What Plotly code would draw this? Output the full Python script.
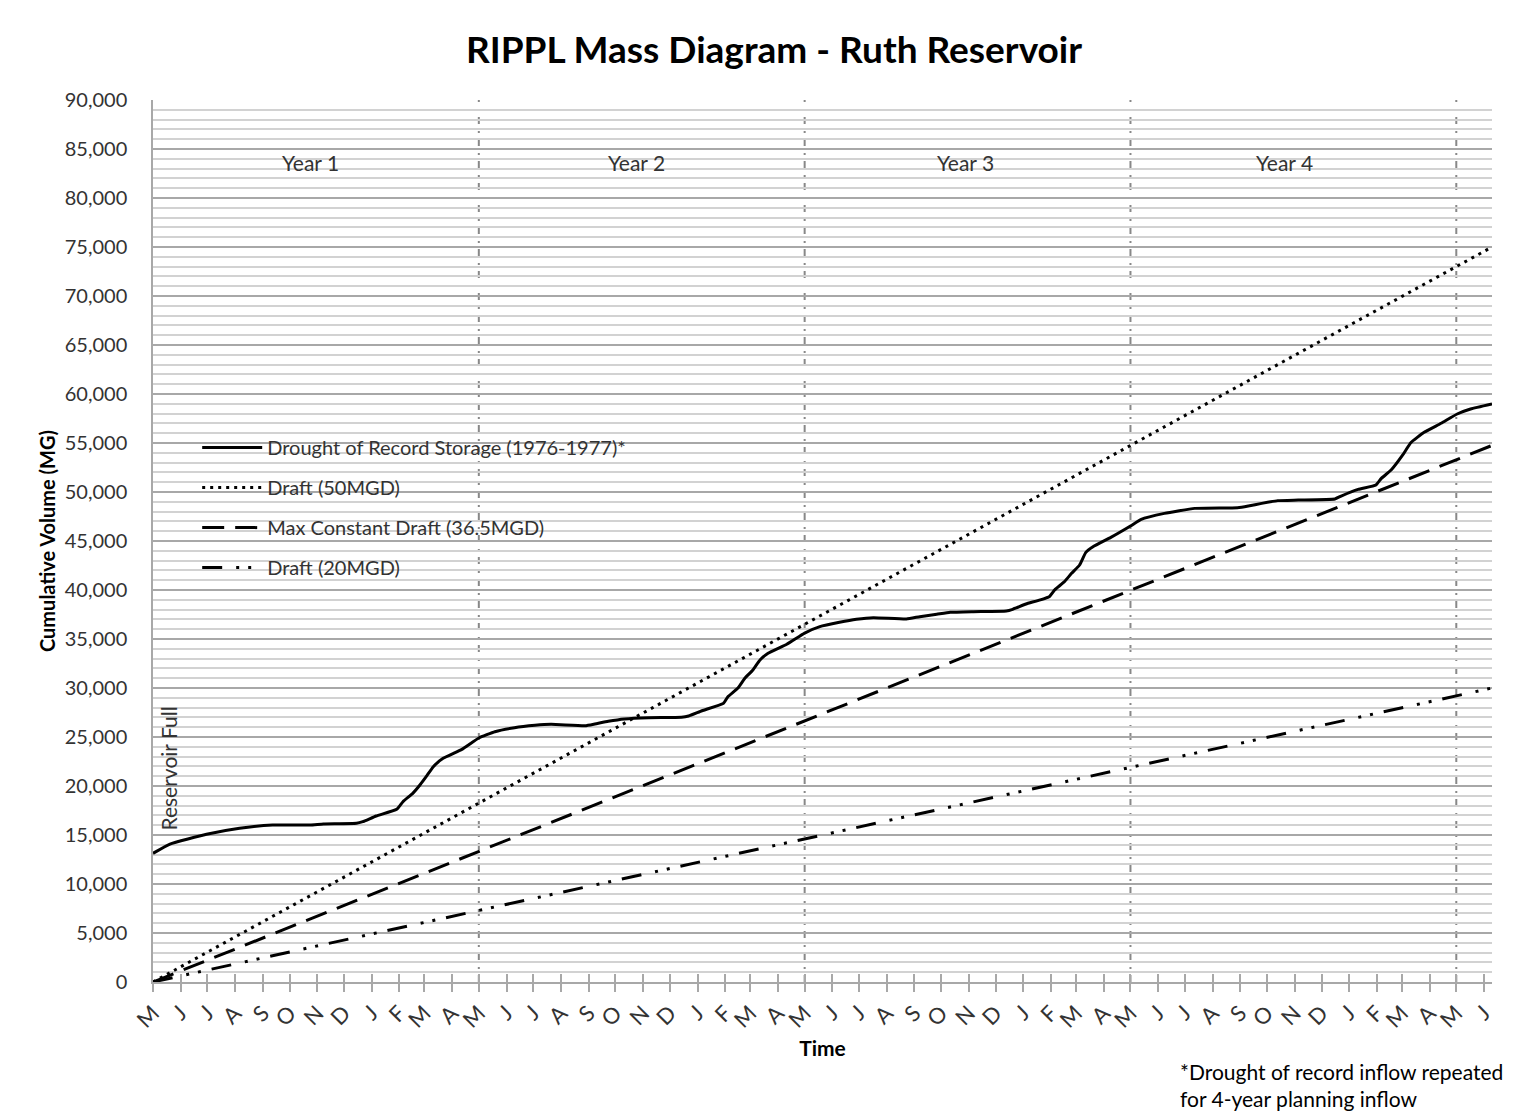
import plotly.graph_objects as go

# ---------------- data ----------------
month_labels = ["M", "J", "J", "A", "S", "O", "N", "D", "J", "F", "M", "A"]
month_start_days = [0, 31, 61, 92, 123, 153, 184, 214, 245, 276, 304, 335]
final_labels = ["M", "J"]
final_days = [1460, 1491]
year_bounds = [365, 730, 1095, 1460]
year_names = ["Year 1", "Year 2", "Year 3", "Year 4"]
year_label_days = [176, 542, 910, 1268]
year_label_value = 83600

storage_days = [0, 19, 60, 97, 134, 176, 191, 228, 235, 250, 273, 280, 291, 299, 306, 314, 325, 346, 365,
                383, 405, 428, 446, 484, 495, 510, 528, 555, 592, 600, 615, 639, 644, 655, 663, 672, 680, 689, 710, 730,
                747, 769, 788, 807, 844, 859, 878, 893, 919, 956, 963, 978, 1004, 1010, 1021, 1029, 1038, 1045, 1053, 1073, 1095,
                1107, 1133, 1167, 1215, 1227, 1242, 1260, 1283, 1324, 1331, 1350, 1370, 1376, 1387, 1400, 1409, 1424, 1443, 1461, 1476, 1500]
storage_mg = [13130, 14080, 15070, 15680, 16020, 16020, 16120, 16190, 16360, 16940, 17620, 18400, 19250, 20100, 20950, 21970, 22820, 23740, 24900,
              25540, 25950, 26190, 26290, 26150, 26330, 26600, 26840, 26970, 27010, 27140, 27680, 28430, 29110, 29970, 30990, 31840, 32860, 33540, 34460, 35600,
              36260, 36700, 37010, 37180, 37040, 37280, 37520, 37720, 37790, 37860, 38030, 38570, 39320, 40000, 40850, 41700, 42550, 43840, 44420, 45370, 46530,
              47210, 47820, 48330, 48400, 48570, 48840, 49120, 49180, 49290, 49590, 50270, 50710, 51390, 52240, 53780, 55030, 56090, 57010, 57960, 58470, 58980]

draft_days = [0, 1500]
draft_50 = [0, 75000]
draft_36_5 = [0, 54750]
draft_20 = [0, 30000]

reservoir_full_day = 17
reservoir_full_value = 21800

# ---------------- ticks ----------------
tick_vals, tick_text = [], []
for k in range(4):
    for d, lab in zip(month_start_days, month_labels):
        tick_vals.append(d + 365 * k)
        tick_text.append(lab)
tick_vals += final_days
tick_text += final_labels

FONT = "Lato"
TXT = "#333333"
GRID_MAJ = "#a8a8a8"
GRID_MIN = "#d2d2d2"

# page offset of the html body (8px) is compensated in the margins
L, R, T, B = 145, 47, 92, 144

fig = go.Figure()

fig.add_trace(go.Scatter(x=storage_days, y=storage_mg, mode="lines",
                         name="Drought of Record Storage (1976-1977)*", legendgroup="a",
                         line=dict(color="black", width=3, shape="spline", smoothing=0.4)))
fig.add_trace(go.Scatter(x=draft_days, y=draft_50, mode="lines", name="Draft (50MGD)", legendgroup="b",
                         line=dict(color="black", width=3, dash="3px,5px")))
fig.add_trace(go.Scatter(x=draft_days, y=draft_36_5, mode="lines", name="Max Constant Draft (36.5MGD)",
                         legendgroup="c", line=dict(color="black", width=3, dash="22px,11px")))
fig.add_trace(go.Scatter(x=draft_days, y=draft_20, mode="lines", name="Draft (20MGD)", legendgroup="d",
                         line=dict(color="black", width=3, dash="20px,14px,3px,9px,3px,11px")))

shapes = []
# white box behind legend (above gridlines, below traces)
shapes.append(dict(type="rect", xref="paper", yref="paper", x0=0.029, x1=0.370, y0=0.4535, y1=0.6236,
                   fillcolor="white", line=dict(width=0), layer="between"))
for b in year_bounds:
    shapes.append(dict(type="line", xref="x", yref="paper", x0=b, x1=b, y0=0, y1=1,
                       line=dict(color="#888888", width=2, dash="7px,6px,2px,7px"), layer="between"))

annotations = []
for name, d in zip(year_names, year_label_days):
    annotations.append(dict(x=d, y=year_label_value, xref="x", yref="y", text=name, showarrow=False,
                            font=dict(family=FONT, size=21, color=TXT)))
annotations.append(dict(x=reservoir_full_day, y=reservoir_full_value, xref="x", yref="y", text="Reservoir Full",
                        textangle=-90, showarrow=False, font=dict(family=FONT, size=21, color=TXT)))
annotations.append(dict(x=(1178 - 153) / 1339, y=(982 - 1057) / 882, xref="paper", yref="paper",
                        xanchor="left", yanchor="top", align="left", showarrow=False,
                        text="*Drought of record inflow repeated<br>for 4-year planning inflow",
                        font=dict(family=FONT, size=21, color="black")))
fig.update_layout(
    width=1531, height=1118,
    margin=dict(l=L, r=R, t=T, b=B),
    paper_bgcolor="white", plot_bgcolor="white",
    title=dict(text="<b>RIPPL Mass Diagram - Ruth Reservoir</b>", x=766 / 1531, xanchor="center",
               y=1 - 42 / 1118, yanchor="middle", font=dict(family=FONT, size=37, color="black")),
    font=dict(family=FONT, color=TXT),
    xaxis=dict(range=[0, 1500], tickmode="array", tickvals=tick_vals, ticktext=tick_text, tickangle=-45,
               ticks="outside", ticklen=8, tickwidth=1.5, tickcolor=GRID_MAJ,
               showline=True, linecolor=GRID_MAJ, linewidth=1.5, showgrid=False, zeroline=False,
               tickfont=dict(family=FONT, size=22, color=TXT),
               title=dict(text="<b>Time</b>", font=dict(family=FONT, size=21, color="black"), standoff=9)),
    xaxis2=dict(range=[0, 1500], overlaying="x", anchor="y", side="bottom", tickmode="array", tickvals=tick_vals,
                ticks="inside", ticklen=8, tickwidth=1.5, tickcolor=GRID_MAJ, showticklabels=False,
                showgrid=False, showline=False, zeroline=False),
    yaxis=dict(range=[0, 90000], dtick=5000, tickformat=",d", showgrid=True, gridcolor=GRID_MAJ, gridwidth=1.5,
               minor=dict(dtick=1000, showgrid=True, gridcolor=GRID_MIN, gridwidth=1.5),
               showline=True, linecolor=GRID_MAJ, linewidth=1.5, zeroline=False, ticks="",
               ticklabelstandoff=20, tickfont=dict(family=FONT, size=20, color=TXT),
               title=dict(text="<b>Cumulative Volume (MG)</b>", font=dict(family=FONT, size=20, color="black"),
                          standoff=4)),
    legend=dict(x=0.033, y=0.628, xanchor="left", yanchor="top", bgcolor="rgba(0,0,0,0)",
                font=dict(family=FONT, size=20, color=TXT), tracegroupgap=11, itemwidth=60),
    shapes=shapes, annotations=annotations,
)
fig.add_trace(go.Scatter(x=[], y=[], xaxis="x2", showlegend=False, hoverinfo="skip"))

fig.write_html("out.html")
